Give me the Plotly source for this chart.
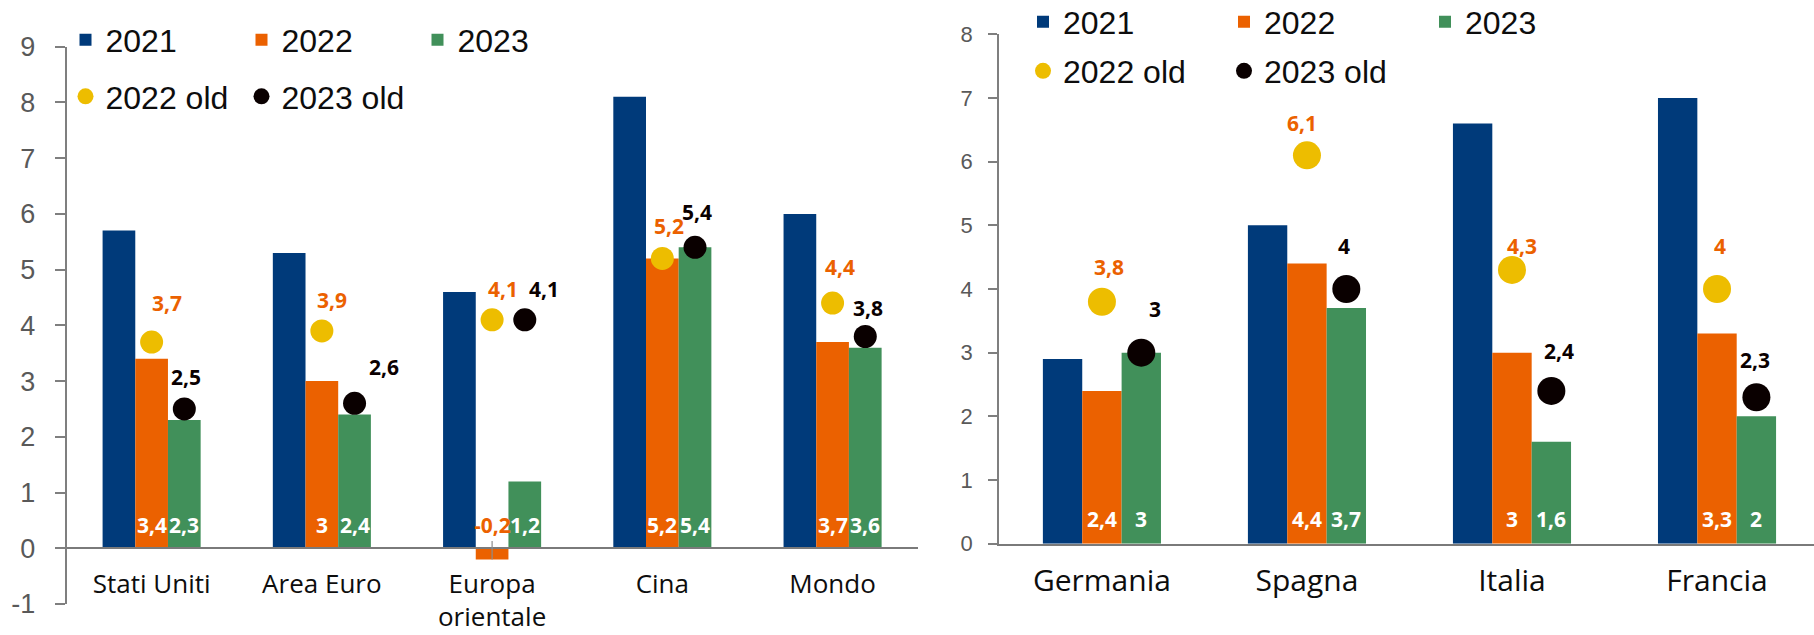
import plotly.graph_objects as go

# ---- left panel: macro areas ----
left_cats = ["Stati Uniti", "Area Euro", "Europa<br>orientale", "Cina", "Mondo"]
left_2021 = [5.7, 5.3, 4.6, 8.1, 6.0]
left_2022 = [3.4, 3.0, -0.2, 5.2, 3.7]
left_2023 = [2.3, 2.4, 1.2, 5.4, 3.6]
left_2022_old = [3.7, 3.9, 4.1, 5.2, 4.4]
left_2023_old = [2.5, 2.6, 4.1, 5.4, 3.8]
left_yticks = list(range(-1, 10))

# ---- right panel: euro-area countries ----
right_cats = ["Germania", "Spagna", "Italia", "Francia"]
right_2021 = [2.9, 5.0, 6.6, 7.0]
right_2022 = [2.4, 4.4, 3.0, 3.3]
right_2023 = [3.0, 3.7, 1.6, 2.0]
right_2022_old = [3.8, 6.1, 4.3, 4.0]
right_2023_old = [3.0, 4.0, 2.4, 2.3]
right_yticks = list(range(0, 9))

# label nudges (px) for the forecast-dot labels: (dx, dy)
left_old22_nudge = [(15, 39), (10, 31), (11, 31), (7, 32), (7, 36)]
left_old23_nudge = [(2, 32), (29, 36), (19, 31), (2, 35), (3, 29)]
right_old22_nudge = [(7, 35), (-5, 32), (10, 24), (3, 43)]
right_old23_nudge = [(14, 44), (-2, 43), (8, 40), (-1, 37)]

BLUE = "#003A7A"
ORANGE = "#EB6100"
GREEN = "#41905A"
YELLOW = "#EDBD00"
BLACK = "#0A0000"
AXIS = "#7F7F7F"

W, H = 1814, 635
BARGAP = 0.424
BARW = (1 - BARGAP) / 3

SANS = "Liberation Sans, Arial, sans-serif"
CAT = "Open Sans, Liberation Sans, sans-serif"
BOLD = "Open Sans, Liberation Sans, sans-serif"
LABEL_SIZE = 21


def fmt(v):
    return ("%g" % v).replace(".", ",")


fig = go.Figure()
annotations = []


def panel(xa, ya, cats, s21, s22, s23, o22, o23, lg_bars, lg_dots,
          dot_size, n22, n23, base_shift):
    idx = list(range(len(cats)))
    for name, vals, col in (("2021", s21, BLUE), ("2022", s22, ORANGE), ("2023", s23, GREEN)):
        fig.add_trace(go.Bar(
            x=idx, y=vals, name=name, marker=dict(color=col, line=dict(width=0)),
            xaxis=xa, yaxis=ya, legend=lg_bars, hoverinfo="skip",
        ))
    fig.add_trace(go.Scatter(
        x=idx, y=o22, name="2022 old", mode="markers",
        marker=dict(color=YELLOW, size=dot_size, line=dict(width=0)),
        xaxis=xa, yaxis=ya, legend=lg_dots, hoverinfo="skip",
    ))
    fig.add_trace(go.Scatter(
        x=[i + BARW for i in idx], y=o23, name="2023 old", mode="markers",
        marker=dict(color=BLACK, size=dot_size, line=dict(width=0)),
        xaxis=xa, yaxis=ya, legend=lg_dots, hoverinfo="skip",
    ))
    # labels above the forecast dots
    for i in idx:
        for xv, v, col, (dx, dy) in ((i, o22[i], ORANGE, n22[i]),
                                    (i + BARW, o23[i], BLACK, n23[i])):
            annotations.append(dict(
                x=xv, y=v, xref=xa, yref=ya, text=fmt(v), showarrow=False,
                xshift=dx, yshift=dy,
                font=dict(family=BOLD, size=LABEL_SIZE, color=col, weight="bold"),
            ))
    # value labels at the base of the 2022 / 2023 bars
    for i in idx:
        for xv, v in ((i, s22[i]), (i + BARW, s23[i])):
            if abs(v) >= 0.5:
                annotations.append(dict(
                    x=xv, y=0, xref=xa, yref=ya, text=fmt(v), showarrow=False,
                    yshift=base_shift,
                    font=dict(family=BOLD, size=LABEL_SIZE, color="white", weight="bold"),
                ))
            else:
                annotations.append(dict(
                    x=xv, y=v, xref=xa, yref=ya, text=fmt(v), showarrow=True,
                    arrowhead=0, arrowwidth=1.2, arrowcolor="#8C8C8C", ax=0, ay=-34,
                    standoff=0,
                    font=dict(family=BOLD, size=LABEL_SIZE, color=ORANGE, weight="bold"),
                ))


panel("x", "y", left_cats, left_2021, left_2022, left_2023,
      left_2022_old, left_2023_old, "legend", "legend2", 23,
      left_old22_nudge, left_old23_nudge, 23)
panel("x2", "y2", right_cats, right_2021, right_2022, right_2023,
      right_2022_old, right_2023_old, "legend3", "legend4", 28,
      right_old22_nudge, right_old23_nudge, 25)


def py(pix):
    return 1 - pix / H


def px(pix):
    return pix / W


legend_common = dict(orientation="h", xanchor="left", yanchor="middle",
                     bgcolor="rgba(0,0,0,0)", borderwidth=0, itemwidth=30,
                     font=dict(family=SANS, size=32, color="#0D0D0D"))

fig.update_layout(
    width=W, height=H,
    margin=dict(l=0, r=0, t=0, b=0, autoexpand=False),
    paper_bgcolor="white", plot_bgcolor="white",
    barmode="group", bargap=BARGAP, bargroupgap=0,
    annotations=annotations,
    legend=dict(legend_common, x=px(65.5), y=py(40), entrywidth=131),
    legend2=dict(legend_common, x=px(65.5), y=py(96.5), entrywidth=131),
    legend3=dict(legend_common, x=px(1023), y=py(22), entrywidth=156),
    legend4=dict(legend_common, x=px(1023), y=py(71), entrywidth=156),
    xaxis=dict(
        domain=[px(66.5), px(917.7)], range=[-0.5, 4.5],
        anchor="free", position=py(548.3),
        showline=True, linecolor="#7A7A7A", linewidth=2,
        ticks="", tickvals=list(range(len(left_cats))), ticktext=left_cats,
        tickfont=dict(family=CAT, size=26, color="#0D0D0D"),
        ticklabelstandoff=12, automargin=False,
        showgrid=False, zeroline=False, fixedrange=True,
    ),
    yaxis=dict(
        domain=[py(604), py(46.7)], range=[-1, 9], anchor="x",
        showline=True, linecolor=AXIS, linewidth=1.5,
        ticks="outside", ticklen=10, tickcolor=AXIS, tickwidth=1.5,
        tickvals=left_yticks, ticktext=[str(t) for t in left_yticks],
        tickfont=dict(family=SANS, size=27, color="#595959"),
        ticklabelstandoff=14, automargin=False,
        showgrid=False, zeroline=False, fixedrange=True,
    ),
    xaxis2=dict(
        domain=[px(999), 1.0], range=[-0.502, 3.473], anchor="y2",
        showline=True, linecolor="#7A7A7A", linewidth=2,
        ticks="", tickvals=list(range(len(right_cats))), ticktext=right_cats,
        tickfont=dict(family=CAT, size=30, color="#0D0D0D"),
        ticklabelstandoff=9, automargin=False,
        showgrid=False, zeroline=False, fixedrange=True,
    ),
    yaxis2=dict(
        domain=[py(543.7), py(34.3)], range=[0, 8], anchor="x2",
        showline=True, linecolor=AXIS, linewidth=1.5,
        ticks="outside", ticklen=9, tickcolor=AXIS, tickwidth=1.5,
        tickvals=right_yticks, ticktext=[str(t) for t in right_yticks],
        tickfont=dict(family=SANS, size=22, color="#595959"),
        ticklabelstandoff=11, automargin=False,
        showgrid=False, zeroline=False, fixedrange=True,
    ),
)

fig.write_html("out.html", config={"displayModeBar": False})
